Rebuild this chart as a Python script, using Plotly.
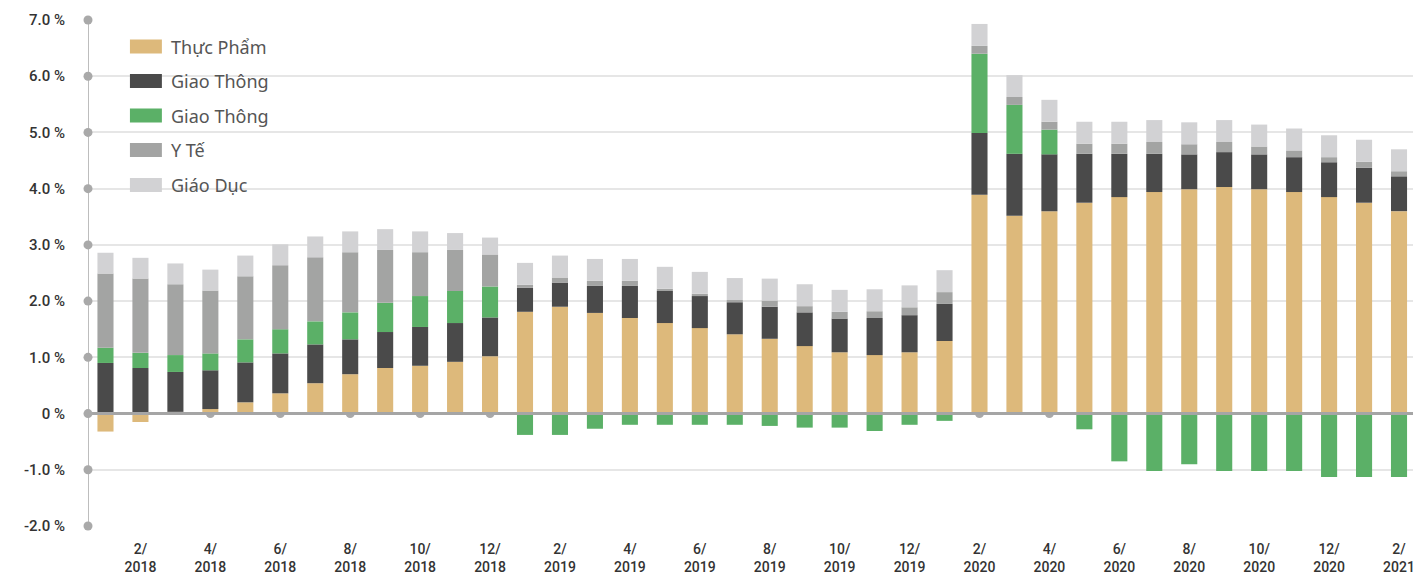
import plotly.graph_objects as go

# Monthly contributions to CPI change (percentage points), 1/2018 - 2/2021
months = [f"{m}/{y}" for y in (2018, 2019, 2020) for m in range(1, 13)] + ["1/2021", "2/2021"]

series_names = ["Thực Phẩm", "Giao Thông", "Giao Thông", "Y Tế", "Giáo Dục"]
series_colors = ["#DDB97B", "#4A4A4A", "#5BB067", "#A3A4A3", "#D2D2D4"]

thuc_pham = [-0.32, -0.15, 0.03, 0.08, 0.20, 0.36, 0.54, 0.70, 0.81, 0.85, 0.92, 1.02,
             1.81, 1.90, 1.79, 1.70, 1.61, 1.52, 1.41, 1.33, 1.20, 1.09, 1.04, 1.09,
             1.29, 3.89, 3.52, 3.60, 3.75, 3.85, 3.94, 3.99, 4.03, 3.99, 3.94, 3.85,
             3.75, 3.60]
giao_thong_1 = [0.90, 0.81, 0.71, 0.69, 0.71, 0.71, 0.69, 0.62, 0.64, 0.69, 0.69, 0.69,
                0.43, 0.43, 0.48, 0.57, 0.57, 0.57, 0.57, 0.57, 0.60, 0.60, 0.66, 0.66,
                0.66, 1.10, 1.10, 1.01, 0.87, 0.77, 0.68, 0.62, 0.62, 0.62, 0.62, 0.62,
                0.62, 0.62]
giao_thong_2 = [0.27, 0.27, 0.30, 0.30, 0.41, 0.43, 0.41, 0.48, 0.52, 0.55, 0.57, 0.55,
                -0.38, -0.38, -0.27, -0.20, -0.20, -0.20, -0.20, -0.22, -0.25, -0.25, -0.31, -0.20,
                -0.13, 1.41, 0.87, 0.44, -0.28, -0.85, -1.02, -0.90, -1.02, -1.02, -1.02, -1.13,
                -1.13, -1.13]
y_te = [1.32, 1.32, 1.26, 1.12, 1.12, 1.14, 1.14, 1.07, 0.94, 0.78, 0.73, 0.57,
        0.05, 0.09, 0.09, 0.09, 0.04, 0.04, 0.04, 0.11, 0.11, 0.12, 0.12, 0.14,
        0.21, 0.14, 0.14, 0.14, 0.18, 0.18, 0.21, 0.18, 0.18, 0.14, 0.12, 0.09,
        0.11, 0.09]
giao_duc = [0.37] * 10 + [0.30, 0.30] + [0.39] * 26

series_values = [thuc_pham, giao_thong_1, giao_thong_2, y_te, giao_duc]

y_ticks = [-2, -1, 0, 1, 2, 3, 4, 5, 6, 7]
y_tick_text = ["-2.0 %", "-1.0 %", "0 %", "1.0 %", "2.0 %", "3.0 %", "4.0 %", "5.0 %", "6.0 %", "7.0 %"]

x = list(range(len(months)))
x_tick_idx = [i for i, m in enumerate(months) if int(m.split("/")[0]) % 2 == 0]
x_tick_text = [months[i].replace("/", "/<br>") for i in x_tick_idx]

W, H = 1415, 578
M_L, M_R, M_T, M_B = 88, 0, 20, 52
PW, PH = W - M_L - M_R, H - M_T - M_B
X_MIN, X_MAX = -0.5, 37.4
DOT = "#A9A9A9"


def px_x(px):
    return (px - M_L) / PW


def px_y(py):
    return (H - M_B - py) / PH


fig = go.Figure()

for name, color, vals in zip(series_names, series_colors, series_values):
    fig.add_trace(go.Bar(
        x=x, y=vals, name=name, width=0.46,
        marker=dict(color=color, line=dict(width=0)),
        showlegend=False))

# zero line over the bars
fig.add_trace(go.Scatter(
    x=[X_MIN, X_MAX], y=[0, 0], mode="lines",
    line=dict(color="#A5A5A5", width=3), hoverinfo="skip",
    showlegend=False, cliponaxis=False))

# value axis line with a dot at every tick
fig.add_trace(go.Scatter(
    x=[X_MIN] * len(y_ticks), y=y_ticks, mode="lines+markers",
    line=dict(color="#BDBDBD", width=2),
    marker=dict(size=9, color=DOT), hoverinfo="skip",
    showlegend=False, cliponaxis=False))

shapes, annotations = [], []

# category tick markers on the zero line, behind the bars
for i in x_tick_idx:
    shapes.append(dict(type="circle", xref="x", yref="y", layer="below",
                       xsizemode="pixel", ysizemode="pixel", xanchor=i, yanchor=0,
                       x0=-4.5, x1=4.5, y0=-4.5, y1=4.5,
                       fillcolor=DOT, line=dict(width=0)))

# legend drawn as swatches + labels
legend_y = [46.5, 81, 115.5, 150, 185]
for name, color, cy in zip(series_names, series_colors, legend_y):
    shapes.append(dict(type="rect", xref="paper", yref="paper",
                       x0=px_x(130), x1=px_x(162), y0=px_y(cy - 7), y1=px_y(cy + 7),
                       fillcolor=color, line=dict(width=0), layer="above"))
    annotations.append(dict(xref="paper", yref="paper", x=px_x(169), y=px_y(cy),
                            text=name, showarrow=False, xanchor="left", yanchor="middle",
                            font=dict(family="Noto Sans, Open Sans, sans-serif", size=18, color="#555555")))

y_tick_font = dict(family="Roboto, sans-serif", size=15, color="#333333", weight=500)
x_tick_font = dict(family="Roboto, sans-serif", size=14, color="#333333", weight=500)

fig.update_layout(
    width=W, height=H,
    margin=dict(l=M_L, r=M_R, t=M_T, b=M_B, pad=0),
    barmode="relative",
    plot_bgcolor="white", paper_bgcolor="white",
    shapes=shapes, annotations=annotations,
    showlegend=False,
    xaxis=dict(range=[X_MIN, X_MAX], tickmode="array", tickvals=x_tick_idx, ticktext=x_tick_text,
               showgrid=False, zeroline=False, showline=False, ticks="",
               tickfont=x_tick_font, ticklabelstandoff=13, ticklabeloverflow="allow",
               fixedrange=True),
    yaxis=dict(range=[-2, 7], tickmode="array", tickvals=y_ticks, ticktext=y_tick_text,
               showgrid=True, gridcolor="#E6E6E6", gridwidth=1.5, zeroline=False,
               showline=False, ticks="", tickfont=y_tick_font, ticklabelstandoff=22,
               fixedrange=True),
)

fig.write_html("out.html")
